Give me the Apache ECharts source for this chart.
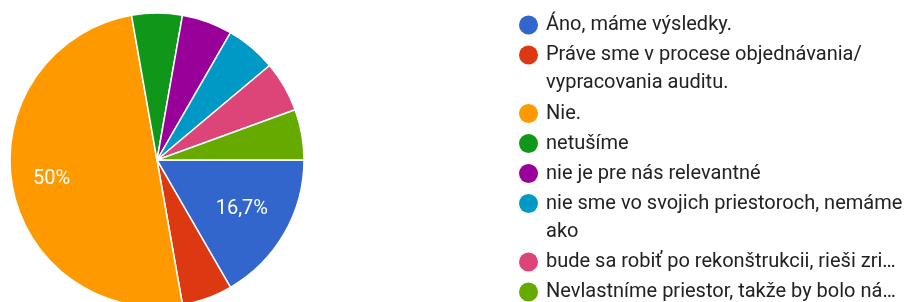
<!DOCTYPE html>
<html><head><meta charset="utf-8">
<script src="https://cdn.jsdelivr.net/npm/echarts@6/dist/echarts.min.js"></script>
<style>html,body{margin:0;padding:0;background:#fff}#c{width:904px;height:302px}</style>
</head><body><div id="c"></div>
<script>
// Categories (legend labels as shown, with the original wrapping)
const categories = [
  'Áno, máme výsledky.',
  'Práve sme v procese objednávania/\nvypracovania auditu.',
  'Nie.',
  'netušíme',
  'nie je pre nás relevantné',
  'nie sme vo svojich priestoroch, nemáme\nako',
  'bude sa robiť po rekonštrukcii, rieši zri…',
  'Nevlastníme priestor, takže by bolo ná…'
];
// Response counts (18 responses: 16,7 % = 3, 50 % = 9, others 1 each)
const counts = [3, 1, 9, 1, 1, 1, 1, 1];

const palette = ['#3366cc', '#dc3912', '#ff9900', '#109618', '#990099', '#0099c6', '#dd4477', '#66aa00'];

const chart = echarts.init(document.getElementById('c'), null, {renderer: 'canvas'});
const CX = 157, CY = 160, R = 147;
const legendFont = {fontFamily: 'Roboto', fontSize: 20, color: '#222222', lineHeight: 28};

// one legend block per category, stacked: item pitch 30px, extra wrapped line 28.5px
const legends = [];
let y = 11;
categories.forEach(name => {
  legends.push({
    orient: 'vertical',
    left: 519,
    top: y,
    padding: 0,
    itemWidth: 25,
    itemHeight: 19,
    icon: 'circle',
    selectedMode: false,
    itemStyle: {borderWidth: 0},
    formatter: n => n.split('\n').map(s => '{t|' + s + '}').join('\n'),
    textStyle: Object.assign({height: 28, rich: {t: legendFont}}, legendFont),
    data: [name]
  });
  y += 30 + 28.5 * (name.split('\n').length - 1);
});

chart.setOption({
  animation: false,
  color: palette,
  legend: legends,
  series: [{
    type: 'pie',
    center: [CX, CY],
    radius: [0, R],
    startAngle: 0,
    clockwise: true,
    silent: true,
    percentPrecision: 1,
    data: categories.map((n, i) => ({name: n, value: counts[i]})),
    itemStyle: {borderColor: '#ffffff', borderWidth: 1.5},
    label: {
      show: true,
      position: 'inside',
      color: '#ffffff',
      fontFamily: 'Roboto',
      fontSize: 20,
      formatter: p => p.percent >= 10 ? String(p.percent).replace('.', ',') + '%' : ''
    },
    labelLine: {show: false},
    labelLayout: function (params) {
      const r = params.labelRect;
      const cx = r.x + r.width / 2, cy = r.y + r.height / 2;
      const k = params.dataIndex === 2 ? 1.40 : 1.28;
      return {dx: (cx - CX) * (k - 1), dy: (cy - CY) * (k - 1)};
    },
    emphasis: {disabled: true}
  }]
});
</script>
</body></html>
